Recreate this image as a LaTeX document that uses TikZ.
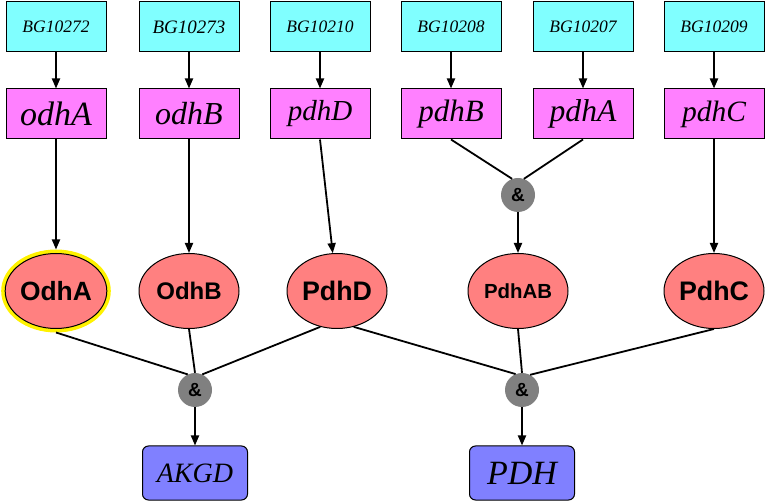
\documentclass[tikz,border=0pt]{standalone}
\usepackage{fontspec}
\setmainfont{Liberation Serif}
\setsansfont{Liberation Sans}
\usetikzlibrary{shapes.geometric,arrows.meta}
\definecolor{bgcyan}{HTML}{80FFFF}
\definecolor{genemag}{HTML}{FF80FF}
\definecolor{protred}{HTML}{FF8080}
\definecolor{andgray}{HTML}{808080}
\definecolor{cplxblue}{HTML}{8080FF}
\newcommand{\fsz}[1]{\fontsize{#1}{#1}\selectfont}
\begin{document}
\begin{tikzpicture}[x=1pt,y=-1pt,
 bgbox/.style={rectangle,draw=black,line width=1pt,fill=bgcyan,minimum width=100pt,minimum height=50pt,inner sep=0pt,font=\itshape\fsz{17.5}},
 genebox/.style={rectangle,draw=black,line width=1pt,fill=genemag,minimum width=100pt,minimum height=50pt,inner sep=0pt,font=\itshape\fsz{31}},
 prot/.style={ellipse,draw=black,line width=1pt,fill=protred,minimum width=100pt,minimum height=75pt,inner sep=0pt,font=\sffamily\bfseries\fsz{26}},
 andnode/.style={circle,fill=andgray,minimum size=34pt,inner sep=0pt,font=\sffamily\bfseries\fsz{19}},
 cplx/.style={rectangle,rounded corners=6pt,draw=black,line width=1pt,fill=cplxblue,minimum width=105pt,minimum height=54pt,inner sep=0pt,font=\itshape\fsz{28}},
 arr/.style={-{Triangle[length=10pt,width=8pt]},line width=1.8pt},
 link/.style={line width=1.8pt}]
\useasboundingbox (0,0) rectangle (766,502);
% top row
\node[bgbox] (bg1) at (56,27) {BG10272};
\node[bgbox,font=\itshape\fsz{19}] (bg2) at (189,27) {BG10273};
\node[bgbox] (bg3) at (320,27) {BG10210};
\node[bgbox] (bg4) at (451,27) {BG10208};
\node[bgbox] (bg5) at (583,27) {BG10207};
\node[bgbox] (bg6) at (714,27) {BG10209};
% genes
\node[genebox,font=\itshape\fsz{34}] (g1) at (56,114) {odhA};
\node[genebox,font=\itshape\fsz{32}] (g2) at (189,114) {odhB};
\node[genebox,font=\itshape\fsz{29}] (g3) at (320,114) {pdhD};
\node[genebox] (g4) at (451,114) {pdhB};
\node[genebox,font=\itshape\fsz{31.6}] (g5) at (583,114) {pdhA};
\node[genebox,font=\itshape\fsz{29.5}] (g6) at (714,114) {pdhC};
% and top
\node[andnode] (and1) at (518,195) {\&};
% proteins
\node[prot,preaction={draw=yellow,line width=8pt},outer sep=4pt,font=\sffamily\bfseries\fsz{26.4}] (OdhA) at (56,291) {OdhA};
\node[prot,font=\sffamily\bfseries\fsz{24}] (OdhB) at (189,291) {OdhB};
\node[prot,font=\sffamily\bfseries\fsz{26.8}] (PdhD) at (337,291) {PdhD};
\node[prot,font=\sffamily\bfseries\fsz{20.4}] (PdhAB) at (518,291) {PdhAB};
\node[prot,font=\sffamily\bfseries\fsz{26.8}] (PdhC) at (714,291) {PdhC};
% and bottom
\node[andnode] (and2) at (195,390) {\&};
\node[andnode] (and3) at (522,390) {\&};
% complexes
\node[cplx] (AKGD) at (195,473) {AKGD};
\node[cplx,font=\itshape\fsz{34}] (PDH) at (522,473) {PDH};
% edges
\foreach \i in {1,...,6} {\draw[arr] (bg\i.south) -- (g\i.north);}
\draw[arr] (g1.south) -- (OdhA);
\draw[arr] (g2.south) -- (OdhB);
\draw[arr] (g3.south) -- (PdhD);
\draw[link] (g4.south) -- (and1.110);
\draw[link] (g5.south) -- (and1.70);
\draw[arr] (and1) -- (PdhAB);
\draw[arr] (g6.south) -- (PdhC);
\draw[link] (OdhA.south) -- (and2.115);
\draw[link] (OdhB.south) -- (and2.north);
\draw[link] (PdhD.245) -- (and2.65);
\draw[link] (PdhD.295) -- (and3.112);
\draw[link] (PdhAB.south) -- (and3.north);
\draw[link] (PdhC.south) -- (and3.62);
\draw[arr] (and2) -- (AKGD);
\draw[arr] (and3) -- (PDH);
\end{tikzpicture}
\end{document}
